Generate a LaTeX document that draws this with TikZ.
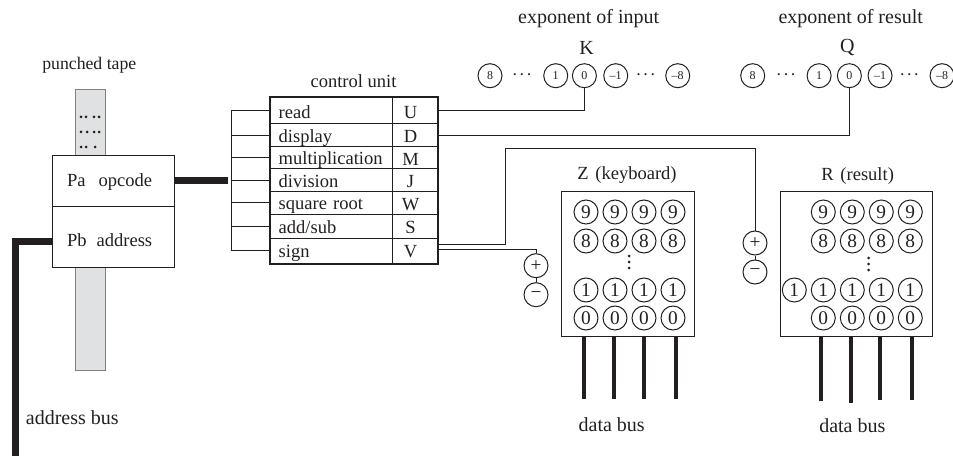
\documentclass[tikz,border=0pt]{standalone}
\usepackage{fontspec}
\setmainfont{Liberation Serif}
\usetikzlibrary{fit,positioning}
\definecolor{ink}{HTML}{231F20}
\definecolor{tapegray}{HTML}{E0E1E3}

\begin{document}
\begin{tikzpicture}[
	x=0.75pt,
	y=-0.75pt,
	node distance=21.75pt,
	on grid,
	line width=0.75pt,
	color=ink,
	text=ink,
	line join=miter,
	label/.style={
		inner sep=0pt,
		font=\fontsize{15}{17}\selectfont
	},
	tablefont/.style={
		font=\fontsize{13.9}{16}\selectfont
	},
	cell/.style={
		draw,
		rectangle,
		tablefont,
		inner xsep=6.5pt,
		inner ysep=0pt,
		text width=78.5pt,
		text height=12pt,
		text depth=1.4pt,
		align=left
	},
	letter/.style={
		draw,
		rectangle,
		tablefont,
		inner sep=0pt,
		minimum width=33.75pt,
		text height=11pt,
		text depth=0pt,
		execute at end node={\kern6pt}
	},
	digit/.style={
		circle,
		draw,
		inner sep=0pt,
		minimum size=18pt,
		font=\fontsize{14.5}{16}\selectfont
	},
	smalldigit/.style={
		digit,
		font=\fontsize{9}{10}\selectfont
	},
	more/.style={
		inner sep=0pt,
		font=\fontsize{6.5}{8}\selectfont
	},
	regbox/.style={
		draw,
		rectangle,
		inner sep=0pt
	},
	bus/.style={
		line width=3pt
	},
	widebus/.style={
		line width=5.25pt
	}]

	\useasboundingbox (0,0) rectangle (953,456);

	\node[label,font=\fontsize{13.3}{15}\selectfont] (tape_title) at (89.3,65.7) {punched tape};
	\node[draw=gray,fill=tapegray,rectangle,minimum width=22.5pt,minimum height=210pt,inner sep=0pt] (tape) at (90,230) {};
	\fill (81,117) circle (1.5) (86,117) circle (1.5) (94,117) circle (1.5) (99,117) circle (1.5)
		(81,132) circle (1.5) (87,132) circle (1.5) (94,132) circle (1.5) (99,132) circle (1.5)
		(81,147) circle (1.5) (86,147) circle (1.5) (95,147) circle (1.5);
	\node[cell,fill=white,inner xsep=10.9pt,text width=69.7pt,text height=10pt,minimum height=38.4pt] (pa) at (113.5,181) {Pa\hspace{9.8pt}opcode};
	\node[cell,fill=white,inner xsep=10.9pt,text width=69.7pt,text height=16pt,minimum height=45.2pt] (pb) at (113.5,237) {Pb\hspace{7.5pt}address};

	\node[label,tablefont] (cu_title) at (353.5,81) {control unit};
	\node[cell,minimum height=19.5pt] (read) at (331,111) {read};
	\node[cell,minimum height=17pt,below=18.2pt of read] (display) {display};
	\node[cell,minimum height=16.8pt,below=16.9pt of display] (mult) {multiplication};
	\node[cell,minimum height=17pt,below=16.9pt of mult] (div) {division};
	\node[cell,minimum height=16.8pt,below=16.9pt of div] (sqrt) {square root};
	\node[cell,minimum height=18pt,below=17.4pt of sqrt] (addsub) {add/sub};
	\node[cell,minimum height=18.7pt,below=18.4pt of addsub] (sign) {sign};
	\node[letter,minimum height=19.5pt] (u) at (414.5,111) {U};
	\node[letter,minimum height=17pt,below=18.2pt of u] (d) {D};
	\node[letter,minimum height=16.8pt,below=16.9pt of d] (m) {M};
	\node[letter,minimum height=17pt,below=16.9pt of m] (j) {J};
	\node[letter,minimum height=16.8pt,below=16.9pt of j] (w) {W};
	\node[letter,minimum height=18pt,below=17.4pt of w] (s) {S};
	\node[letter,minimum height=18.7pt,below=18.4pt of s] (v) {V};
	\node[draw,line width=1.5pt,inner sep=0pt,fit=(read)(sign)(u)(v)] (cu) {};

	\coordinate (rail) at (231,111);
	\coordinate (op_end) at (228,181);
	\coordinate (addr_end) at (15.5,456);
	\coordinate (v_a) at (437,244);
	\coordinate (v_b) at (437,249.3);
	\coordinate (v_turn) at (505,148.7);

	\node[label] (k_title) at (588.7,19) {exponent of input};
	\node[label] (k_name) at (586.7,47.7) {K};
	\node[smalldigit] (k_8) at (490,75.7) {8};
	\node[more,right=24pt of k_8] (k_more) {•\kern3pt•\kern3pt•};
	\node[smalldigit,right=25.3pt of k_more] (k_1) {1};
	\node[smalldigit,right=21.5pt of k_1] (k_0) {0};
	\node[smalldigit,right=23.5pt of k_0] (k_m1) {–1};
	\node[more,right=22.5pt of k_m1] (k_less) {•\kern3pt•\kern3pt•};
	\node[smalldigit,right=24pt of k_less] (k_m8) {–8};

	\node[label] (q_title) at (850.7,19) {exponent of result};
	\node[label] (q_name) at (847.3,47.7) {Q};
	\node[smalldigit] (q_8) at (752.7,75.7) {8};
	\node[more,right=25pt of q_8] (q_more) {•\kern3pt•\kern3pt•};
	\node[smalldigit,right=24.8pt of q_more] (q_1) {1};
	\node[smalldigit,right=22.7pt of q_1] (q_0) {0};
	\node[smalldigit,right=23pt of q_0] (q_m1) {–1};
	\node[more,right=22pt of q_m1] (q_less) {•\kern3pt•\kern3pt•};
	\node[smalldigit,right=24.5pt of q_less] (q_m8) {–8};

	\node[label,tablefont] (z_title) at (627,175) {Z\hspace{5pt}(keyboard)};
	\node[regbox,minimum width=100pt,minimum height=109pt] (z_box) at (628,264) {};
	\node[digit] (z_9a) at (586,212) {9};
	\node[digit,right=of z_9a] (z_9b) {9};
	\node[digit,right=of z_9b] (z_9c) {9};
	\node[digit,right=of z_9c] (z_9d) {9};
	\node[digit,below=of z_9a] (z_8a) {8};
	\node[digit,below=of z_9b] (z_8b) {8};
	\node[digit,below=of z_9c] (z_8c) {8};
	\node[digit,below=of z_9d] (z_8d) {8};
	\node[digit,below=36.75pt of z_8a] (z_1a) {1};
	\node[digit,below=36.75pt of z_8b] (z_1b) {1};
	\node[digit,below=36.75pt of z_8c] (z_1c) {1};
	\node[digit,below=36.75pt of z_8d] (z_1d) {1};
	\node[digit,below=21pt of z_1a] (z_0a) {0};
	\node[digit,below=21pt of z_1b] (z_0b) {0};
	\node[digit,below=21pt of z_1c] (z_0c) {0};
	\node[digit,below=21pt of z_1d] (z_0d) {0};
	\fill (629,256) circle (1.5) (629,262) circle (1.5) (629,268) circle (1.5);
	\node[digit] (z_plus) at (536,265.7) {+};
	\node[digit,below=of z_plus] (z_minus) {−};
	\node[label] (z_bus) at (611.7,425) {data bus};

	\node[label,tablefont] (r_title) at (857.7,176) {R\hspace{5pt}(result)};
	\node[regbox,minimum width=113.8pt,minimum height=108.8pt] (r_box) at (856.2,264.2) {};
	\node[digit] (r_9a) at (823.3,212) {9};
	\node[digit,right=of r_9a] (r_9b) {9};
	\node[digit,right=of r_9b] (r_9c) {9};
	\node[digit,right=of r_9c] (r_9d) {9};
	\node[digit,below=of r_9a] (r_8a) {8};
	\node[digit,below=of r_9b] (r_8b) {8};
	\node[digit,below=of r_9c] (r_8c) {8};
	\node[digit,below=of r_9d] (r_8d) {8};
	\node[digit,below=36.75pt of r_8a] (r_1a) {1};
	\node[digit,below=36.75pt of r_8b] (r_1b) {1};
	\node[digit,below=36.75pt of r_8c] (r_1c) {1};
	\node[digit,below=36.75pt of r_8d] (r_1d) {1};
	\node[digit,left=of r_1a] (r_1x) {1};
	\node[digit,below=21pt of r_1a] (r_0a) {0};
	\node[digit,below=21pt of r_1b] (r_0b) {0};
	\node[digit,below=21pt of r_1c] (r_0c) {0};
	\node[digit,below=21pt of r_1d] (r_0d) {0};
	\fill (868.7,258) circle (1.5) (868.7,264) circle (1.5) (868.7,270) circle (1.5);
	\node[digit] (r_plus) at (755,243) {+};
	\node[digit,below=of r_plus] (r_minus) {−};
	\node[label] (r_bus) at (852.3,426) {data bus};

	\node[label] (addr_bus) at (72.3,418) {address bus};

	\coordinate (z_end1) at (584.3,399.3);
	\coordinate (z_end2) at (614,399.3);
	\coordinate (z_end3) at (643.7,399.3);
	\coordinate (z_end4) at (675.7,399.3);
	\coordinate (r_end1) at (821,400.7);
	\coordinate (r_end2) at (851,403.3);
	\coordinate (r_end3) at (880.3,400);
	\coordinate (r_end4) at (912.3,400);

	\draw[widebus] (pa.east) -- (op_end);
	\draw[widebus] (pb.west |- 0,241) -| (addr_end);
	\draw (read.west) -- (rail) -- (rail |- sign.west) -- (sign.west);
	\draw (display.west) -- (rail |- display.west);
	\draw (mult.west) -- (rail |- mult.west);
	\draw (div.west) -- (rail |- div.west);
	\draw (sqrt.west) -- (rail |- sqrt.west);
	\draw (addsub.west) -- (rail |- addsub.west);
	\draw (u.east) -| (k_0.south);
	\draw (d.east) -| (q_0.south);
	\draw (v_a) -| (v_turn) -| (r_plus.north);
	\draw (v_b) -| (z_plus.north);
	\draw (z_plus) -- (z_minus);
	\draw (r_plus) -- (r_minus);
	\draw[bus] (z_end1 |- z_box.south) -- (z_end1);
	\draw[bus] (z_end2 |- z_box.south) -- (z_end2);
	\draw[bus] (z_end3 |- z_box.south) -- (z_end3);
	\draw[bus] (z_end4 |- z_box.south) -- (z_end4);
	\draw[bus] (r_end1 |- r_box.south) -- (r_end1);
	\draw[bus] (r_end2 |- r_box.south) -- (r_end2);
	\draw[bus] (r_end3 |- r_box.south) -- (r_end3);
	\draw[bus] (r_end4 |- r_box.south) -- (r_end4);
\end{tikzpicture}
\end{document}
